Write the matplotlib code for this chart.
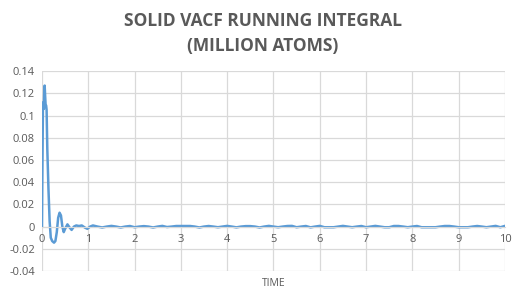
import matplotlib
matplotlib.use("Agg")
import matplotlib.pyplot as plt
import numpy as np

# early part (dense)
t_early = [0.0, 0.005, 0.012, 0.02, 0.028, 0.04, 0.05, 0.058, 0.068, 0.078, 0.09, 0.1,
           0.115, 0.14, 0.165, 0.19, 0.22, 0.26, 0.29, 0.32, 0.35, 0.38, 0.41, 0.44,
           0.47, 0.5, 0.55, 0.6, 0.64, 0.69, 0.74, 0.8, 0.86, 0.93, 0.98, 1.04, 1.1]
v_early = [0.0, 0.03, 0.065, 0.105, 0.112, 0.106, 0.125, 0.127, 0.118, 0.11, 0.109, 0.105,
           0.07, 0.034, 0.005, -0.01, -0.013, -0.0145, -0.013, -0.005, 0.008, 0.0125, 0.01, 0.0,
           -0.005, -0.002, 0.002, -0.001, -0.003, 0.0, 0.001, 0.0005, 0.001, -0.001, -0.002, 0.0, 0.001]
# late part (every 0.1 from 1.2 to 10.0)
t_late = [round(1.2 + 0.1 * i, 1) for i in range(89)]
v_late = [0.0, -0.0008, 0.0, 0.0006, 0.0, -0.0008, 0.0, 0.0005, -0.0006, 0.0,
          0.0004, 0.0, -0.0008, 0.0, 0.0006, -0.0004, 0.0, 0.0005, 0.0005, 0.0005,
          0.0005, 0.0, -0.0008, 0.0, 0.0005, 0.0, -0.0006, 0.0, 0.0006, 0.0,
          -0.0007, 0.0, 0.0004, 0.0004, 0.0, -0.0008, 0.0, 0.0006, 0.0, -0.0006,
          0.0, 0.0005, 0.0006, -0.0006, 0.0, 0.0005, -0.0007, 0.0, 0.0006, -0.0006,
          -0.0006, -0.0006, 0.0, 0.0006, 0.0, -0.0006, 0.0, 0.0005, -0.0006, 0.0,
          0.0006, 0.0, -0.0006, -0.0006, 0.0005, 0.0005, 0.0, -0.0006, 0.0, 0.0005,
          -0.0006, -0.0006, -0.0006, -0.0006, 0.0, 0.0005, 0.0005, 0.0, -0.0006, -0.0006,
          -0.0006, 0.0, 0.0005, 0.0, -0.0006, 0.0, 0.0006, -0.0006, 0.0006]
time = t_early + t_late
values = v_early + v_late

x_ticks = [0, 1, 2, 3, 4, 5, 6, 7, 8, 9, 10]
y_ticks = [-0.04, -0.02, 0, 0.02, 0.04, 0.06, 0.08, 0.1, 0.12, 0.14]
y_labels = ["-0.04", "-0.02", "0", "0.02", "0.04", "0.06", "0.08", "0.1", "0.12", "0.14"]

plt.rcParams['font.family'] = ['Open Sans', 'DejaVu Sans']
fig = plt.figure(figsize=(5.26, 3.04), dpi=100)
ax = fig.add_axes([0.0798, 0.1086, 0.8802, 0.6574])
ax.plot(time, values, color='#5B9BD5', lw=1.8, solid_joinstyle='round')
ax.set_xlim(0, 10)
ax.set_ylim(-0.04, 0.14)
ax.set_xticks(x_ticks)
ax.set_yticks(y_ticks)
ax.set_yticklabels(y_labels)
ax.grid(True, color='#d9d9d9', lw=0.9)
ax.set_axisbelow(True)
for s in ['top', 'right', 'left']:
    ax.spines[s].set_visible(False)
ax.spines['bottom'].set_position(('data', 0))
ax.spines['bottom'].set_color('#d9d9d9')
ax.tick_params(length=0, colors='#595959', labelsize=8)
ax.tick_params(axis='x', pad=5)
ax.tick_params(axis='y', pad=5)
ax.set_xlabel('TIME', color='#595959', fontsize=7.5)
ax.xaxis.set_label_coords(0.5, -0.035)
fig.text(0.5, 0.89, 'SOLID VACF RUNNING INTEGRAL\n(MILLION ATOMS)', ha='center', va='center',
         color='#595959', fontsize=12.5, fontweight='bold', linespacing=1.45)
fig.savefig('out.png', dpi=100)
